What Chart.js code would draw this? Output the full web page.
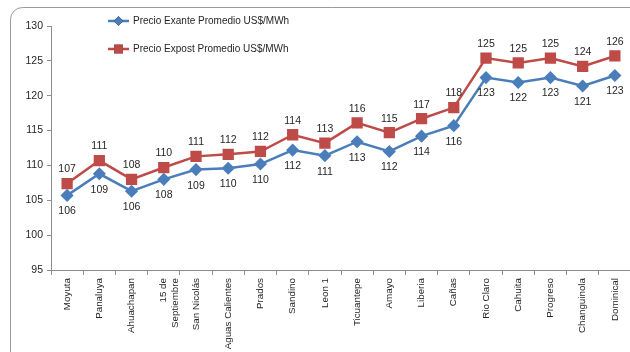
<!DOCTYPE html>
<html>
<head>
<meta charset="utf-8">
<script src="https://cdn.jsdelivr.net/npm/chart.js@4.4.1/dist/chart.umd.min.js"></script>
<style>
  html, body { margin: 0; padding: 0; background: #fff; overflow: hidden; }
  #wrap { width: 640px; height: 352px; }
</style>
</head>
<body>
<div id="wrap"><canvas id="price-chart" width="640" height="352"></canvas></div>
<script>
// Nodes along the interconnection, north to south
const nodes = ['Moyuta', 'Panaluya', 'Ahuachapan', ['15 de', 'Septiembre'], 'San Nicolás',
    'Aguas Calientes', 'Prados', 'Sandino', 'Leon 1', 'Ticuantepe', 'Amayo', 'Liberia',
    'Cañas', 'Rio Claro', 'Cahuita', 'Progreso', 'Changuinola', 'Dominical'];

// Average prices, US$/MWh
const exante = [105.7, 108.8, 106.3, 108.0, 109.4, 109.6, 110.2, 112.2, 111.4, 113.4,
    112.0, 114.2, 115.7, 122.6, 121.9, 122.6, 121.4, 122.9];
const expost = [107.4, 110.7, 108.0, 109.7, 111.3, 111.6, 112.0, 114.4, 113.2, 116.1,
    114.7, 116.7, 118.3, 125.4, 124.7, 125.4, 124.2, 125.7];

const seriesNames = ['Precio Exante Promedio US$/MWh', 'Precio Expost Promedio US$/MWh'];
const yTicks = [95, 100, 105, 110, 115, 120, 125, 130];

const FONT = 'Liberation Sans';
const TEXT = '#262626';
const AXIS = '#8c8c8c';

// Rounded outer frame behind everything
const framePlugin = {
    id: 'frame',
    beforeDraw(chart) {
        const ctx = chart.ctx;
        ctx.save();
        ctx.fillStyle = '#fff';
        ctx.fillRect(0, 0, chart.width, chart.height);
        ctx.strokeStyle = '#9a9a9a';
        ctx.lineWidth = 1;
        ctx.beginPath();
        ctx.roundRect(10.5, 7.5, 700, 420, 12);
        ctx.stroke();
        ctx.restore();
    }
};

// Rounded value above the expost points, below the exante points
const valueLabels = {
    id: 'valueLabels',
    afterDatasetsDraw(chart) {
        const ctx = chart.ctx;
        ctx.save();
        ctx.font = '10.5px "' + FONT + '"';
        ctx.fillStyle = TEXT;
        ctx.textAlign = 'center';
        ctx.textBaseline = 'middle';
        chart.data.datasets.forEach((ds, i) => {
            const offset = i === 0 ? 16 : -14;
            chart.getDatasetMeta(i).data.forEach((pt, j) => {
                ctx.fillText(Math.round(ds.data[j]).toString(), pt.x, pt.y + offset);
            });
        });
        ctx.restore();
    }
};

// Legend stacked inside the plot, upper left
const insideLegend = {
    id: 'insideLegend',
    afterDraw(chart) {
        const ctx = chart.ctx;
        ctx.save();
        ctx.font = '10px "' + FONT + '"';
        ctx.textBaseline = 'middle';
        chart.data.datasets.forEach((ds, i) => {
            const y = 21 + i * 28;
            ctx.strokeStyle = ds.borderColor;
            ctx.lineWidth = 2.5;
            ctx.beginPath();
            ctx.moveTo(108, y);
            ctx.lineTo(129, y);
            ctx.stroke();
            Chart.helpers.drawPoint(ctx, {
                pointStyle: ds.pointStyle,
                radius: ds.pointRadius,
                borderWidth: 0
            }, 118.5, y);
            ctx.fillStyle = ds.borderColor;
            ctx.fill();
            ctx.fillStyle = TEXT;
            ctx.fillText(ds.label, 133, y);
        });
        ctx.restore();
    }
};

new Chart(document.getElementById('price-chart'), {
    type: 'line',
    data: {
        labels: nodes,
        datasets: [
            {
                label: seriesNames[0],
                data: exante,
                borderColor: '#4a7ebb',
                backgroundColor: '#4a7ebb',
                borderWidth: 2.5,
                pointStyle: 'rectRot',
                pointRadius: 4.8,
                pointHoverRadius: 4.8,
                tension: 0
            },
            {
                label: seriesNames[1],
                data: expost,
                borderColor: '#be4b48',
                backgroundColor: '#be4b48',
                borderWidth: 2.5,
                pointStyle: 'rect',
                pointRadius: 6.2,
                pointHoverRadius: 6.2,
                tension: 0
            }
        ]
    },
    options: {
        responsive: false,
        animation: false,
        devicePixelRatio: 1,
        layout: { padding: { top: 26, left: 0, right: 9, bottom: 0 } },
        plugins: {
            legend: { display: false },
            tooltip: { enabled: false }
        },
        scales: {
            x: {
                offset: true,
                afterFit(scale) { scale.height = 82; },
                border: { display: true, color: AXIS, width: 1 },
                grid: { drawOnChartArea: false, tickLength: 5, color: AXIS, offset: true },
                ticks: {
                    minRotation: 90,
                    maxRotation: 90,
                    autoSkip: false,
                    padding: 3,
                    color: TEXT,
                    font: { family: FONT, size: 9.8 }
                }
            },
            y: {
                min: yTicks[0],
                max: yTicks[yTicks.length - 1],
                afterFit(scale) { scale.width = 51; },
                afterBuildTicks(scale) { scale.ticks = yTicks.map(v => ({ value: v })); },
                border: { display: true, color: AXIS, width: 1 },
                grid: { drawOnChartArea: false, tickLength: 4, color: AXIS },
                ticks: {
                    padding: 4,
                    color: TEXT,
                    font: { family: FONT, size: 10.5 }
                }
            }
        }
    },
    plugins: [framePlugin, valueLabels, insideLegend]
});
</script>
</body>
</html>
